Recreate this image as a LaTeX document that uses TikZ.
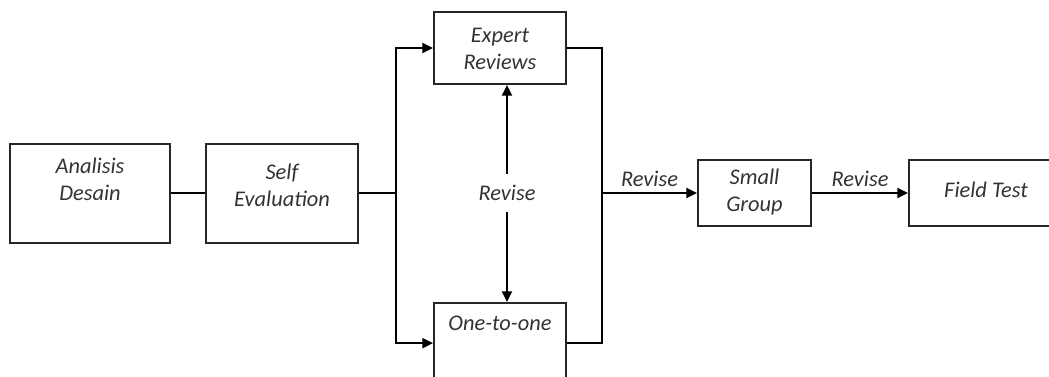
\documentclass[tikz,border=0pt]{standalone}
\usepackage{fontspec}
\setmainfont{Carlito}
\usetikzlibrary{arrows.meta}

\begin{document}
\begin{tikzpicture}[x=0.75pt, y=-0.75pt, line width=1.5pt,
    >={Triangle[length=8pt,width=7.5pt]},
    every node/.style={font=\itshape\fontsize{16.8}{20.5}\selectfont, text=black!80},
    box/.style={draw=black!85, align=center, anchor=north west, inner xsep=0pt, inner ysep=0pt}]
    % Frame of the picture
    \useasboundingbox (0,0) rectangle (1049,376);

    % Design stage
    \node[box, minimum width=120pt, text height=43pt, text depth=31.25pt] (ad) at (9,142.5) {Analisis\\Desain};
    \node[box, minimum width=114pt, text height=47.5pt, text depth=26.75pt] (se) at (205,142.5) {Self\\Evaluation};

    % Formative evaluation in parallel
    \node[box, minimum width=99pt, text height=43pt, text depth=11pt] (er) at (433,11) {Expert\\Reviews};
    \node[box, minimum width=99pt, text height=20.25pt, text depth=40pt] (oo) at (433,302) {One-to-one};
    \node[inner ysep=7.5pt] (rv) at (507,193) {Revise};

    % Later trials
    \node[box, minimum width=84.75pt, text height=38.5pt, text depth=11pt] (sg) at (697,159) {Small\\Group};
    \node[box, minimum width=115.5pt, text height=27.75pt, text depth=21.75pt] (ft) at (908,159) {Field Test};

    % Junction points
    \path (se.east) ++(37,0) coordinate (jl);
    \path (sg.west) ++(-95,0) coordinate (jr);

    % Connectors
    \draw (ad) -- (se);
    \draw (se) -- (jl);
    \draw[->] (jl) |- (er);
    \draw[->] (jl) |- (oo);
    \draw[->] (rv) -- (rv |- er.south);
    \draw[->] (rv) -- (rv |- oo.north);
    \draw (er) -| (jr);
    \draw (oo) -| (jr);
    \draw[->] (jr) -- (sg) node[midway, above, yshift=1pt] {Revise};
    \draw[->] (sg) -- (ft) node[midway, above, yshift=1pt] {Revise};
\end{tikzpicture}
\end{document}
